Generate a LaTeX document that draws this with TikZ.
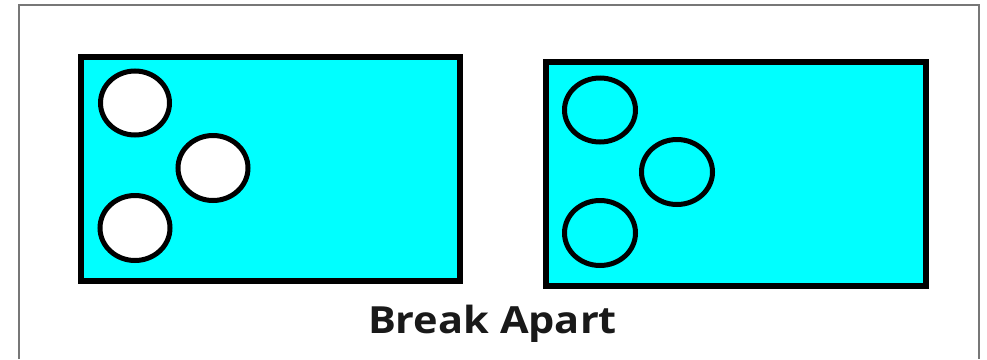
\documentclass[tikz,border=0pt]{standalone}
\usepackage{fontspec}
\setmainfont{Open Sans}
\definecolor{cyanfill}{HTML}{00FFFF}
\definecolor{framegray}{HTML}{777777}
\begin{document}
\begin{tikzpicture}[x=1pt,y=-1pt,
  panel/.style={draw=black,line width=6pt,fill=cyanfill},
  hole/.style={draw=black,line width=5pt,fill=white},
  ring/.style={draw=black,line width=5pt,fill=none}]
\useasboundingbox (0,0) rectangle (987,359);
\fill[white] (0,0) rectangle (987,359);
\draw[framegray,line width=1.2pt] (19,359) -- (19,5) -- (979,5) -- (979,359);
% left panel
\draw[panel] (81,57) rectangle (460,281);
\draw[hole] (135,103) ellipse [x radius=34.5, y radius=32];
\draw[hole] (213,168) ellipse [x radius=35, y radius=32.5];
\draw[hole] (135,228) ellipse [x radius=35, y radius=32.5];
% right panel
\draw[panel] (546,62) rectangle (926,285.5);
\draw[ring] (600,110) ellipse [x radius=35.5, y radius=32];
\draw[ring] (677,172) ellipse [x radius=35.5, y radius=32.5];
\draw[ring] (600,233) ellipse [x radius=35.5, y radius=32.5];
\node[font=\fontsize{37.4}{40}\selectfont\bfseries, text=black!90, inner sep=0pt, anchor=base] (cap) at (492.5,333) {\scalebox{1.11}[1]{Break Apart}};
\end{tikzpicture}
\end{document}
